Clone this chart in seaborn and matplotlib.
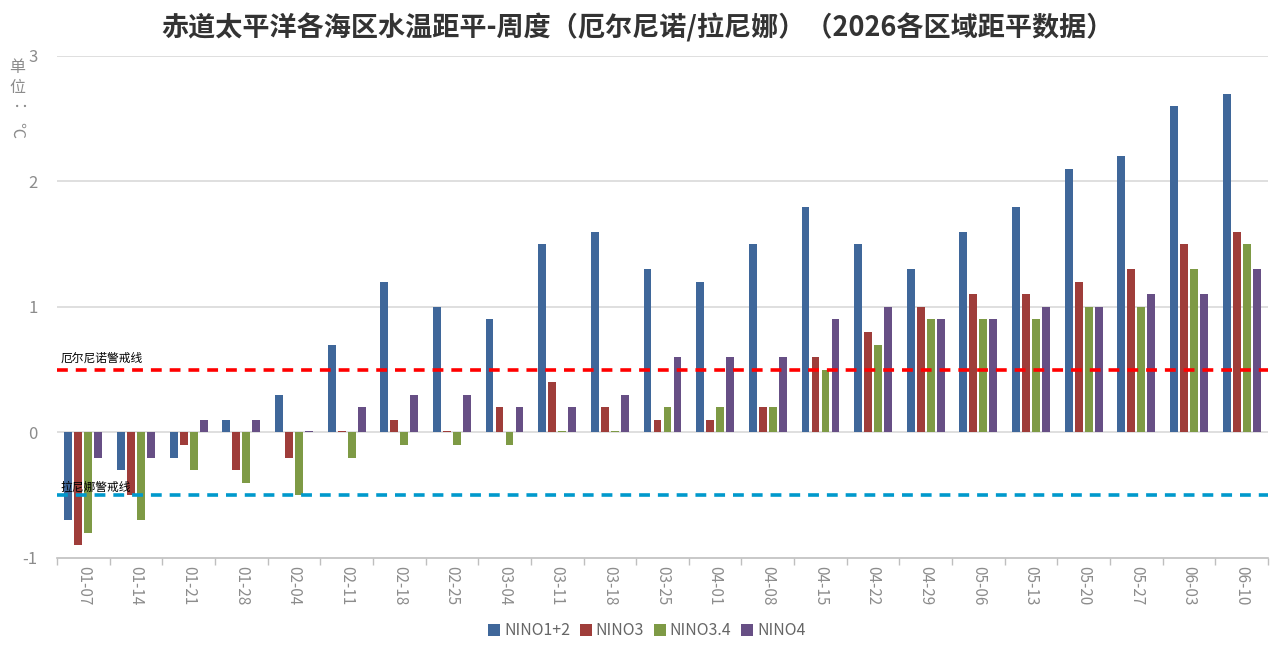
import numpy as np
import pandas as pd
import seaborn as sns
import matplotlib.pyplot as plt

# --- data ---
weeks = ['01-07', '01-14', '01-21', '01-28', '02-04', '02-11', '02-18', '02-25',
         '03-04', '03-11', '03-18', '03-25', '04-01', '04-08', '04-15', '04-22',
         '04-29', '05-06', '05-13', '05-20', '05-27', '06-03', '06-10']
nino12 = [-0.7, -0.3, -0.2, 0.1, 0.3, 0.7, 1.2, 1.0, 0.9, 1.5, 1.6, 1.3, 1.2, 1.5,
          1.8, 1.5, 1.3, 1.6, 1.8, 2.1, 2.2, 2.6, 2.7]
nino3 = [-0.9, -0.5, -0.1, -0.3, -0.2, 0.01, 0.1, 0.01, 0.2, 0.4, 0.2, 0.1, 0.1, 0.2,
         0.6, 0.8, 1.0, 1.1, 1.1, 1.2, 1.3, 1.5, 1.6]
nino34 = [-0.8, -0.7, -0.3, -0.4, -0.5, -0.2, -0.1, -0.1, -0.1, 0.01, 0.01, 0.2, 0.2, 0.2,
          0.5, 0.7, 0.9, 0.9, 0.9, 1.0, 1.0, 1.3, 1.5]
nino4 = [-0.2, -0.2, 0.1, 0.1, 0.01, 0.2, 0.3, 0.3, 0.2, 0.2, 0.3, 0.6, 0.6, 0.6,
         0.9, 1.0, 0.9, 0.9, 1.0, 1.0, 1.1, 1.1, 1.3]
series_names = ['NINO1+2', 'NINO3', 'NINO3.4', 'NINO4']
el_nino_level = 0.5
la_nina_level = -0.5

df = pd.DataFrame({'week': weeks, 'NINO1+2': nino12, 'NINO3': nino3,
                   'NINO3.4': nino34, 'NINO4': nino4})
df_long = df.melt(id_vars='week', var_name='series', value_name='value')

sns.set_theme(style='white')
plt.rcParams['font.family'] = ['Noto Sans CJK SC', 'DejaVu Sans']

palette = ['#3F679A', '#9F3D3A', '#7E9A45', '#674F85']
grey = '#8C8C8C'

fig = plt.figure(figsize=(12.76, 6.51), dpi=100)
ax = fig.add_axes([0.0447, 0.143, 0.9490, 0.771])

sns.barplot(data=df_long, x='week', y='value', hue='series', hue_order=series_names,
            palette=palette, width=0.76, gap=0.22, ax=ax, saturation=1,
            linewidth=0, legend=True)

ax.set_ylim(-1, 3)
ax.set_xlim(-0.5, len(weeks) - 0.5)
ax.set_yticks([-1, 0, 1, 2, 3])
ax.set_yticklabels(['-1', '0', '1', '2', '3'], color=grey, fontsize=12)
for y in [0, 1, 2, 3]:
    ax.axhline(y, color='#D9D9D9', lw=1.2, zorder=0)

# warning lines
ax.axhline(el_nino_level, color='#FF0000', lw=2.6, ls=(0, (3, 2.2)), zorder=3)
ax.axhline(la_nina_level, color='#0099CC', lw=2.6, ls=(0, (3, 2.2)), zorder=3)
ax.text(0.003, el_nino_level + 0.04, '厄尔尼诺警戒线', transform=ax.get_yaxis_transform(),
        fontsize=8.5, color='black', va='bottom', ha='left')
ax.text(0.003, la_nina_level + 0.01, '拉尼娜警戒线', transform=ax.get_yaxis_transform(),
        fontsize=8.5, color='black', va='bottom', ha='left')

# axes styling
for side in ['top', 'right', 'left']:
    ax.spines[side].set_visible(False)
ax.spines['bottom'].set_color('#BFBFBF')
ax.spines['bottom'].set_linewidth(1.2)
ax.set_xticks(range(len(weeks)))
ax.set_xticklabels(weeks, rotation=270, color=grey, fontsize=11)
ax.set_xticks(np.arange(-0.5, len(weeks), 1), minor=True)
ax.tick_params(axis='x', which='major', length=0, pad=6)
ax.tick_params(axis='x', which='minor', length=5, color='#BFBFBF', bottom=True)
ax.tick_params(axis='y', length=0, pad=14)
ax.set_xlabel('')
ax.set_ylabel('')

# unit label, stacked vertically
fig.text(0.0135, 0.897, '单', fontsize=11.5, color=grey, ha='center', va='center')
fig.text(0.0135, 0.865, '位', fontsize=11.5, color=grey, ha='center', va='center')
fig.text(0.0135, 0.830, '：', fontsize=11.5, color=grey, ha='center', va='center', rotation=-90)
fig.text(0.0135, 0.800, '℃', fontsize=11.5, color=grey, ha='center', va='center', rotation=-90)

fig.suptitle('赤道太平洋各海区水温距平-周度（厄尔尼诺/拉尼娜）（2026各区域距平数据）',
             x=0.5, y=0.98, fontsize=19.5, fontweight='bold', color='#333333')

leg = ax.legend(loc='upper center', bbox_to_anchor=(0.487, -0.1), ncol=4, frameon=False,
                fontsize=11.5, handlelength=0.75, handleheight=0.75, handletextpad=0.25,
                columnspacing=0.6, labelcolor='#666666')

fig.savefig('out.png', dpi=100)
